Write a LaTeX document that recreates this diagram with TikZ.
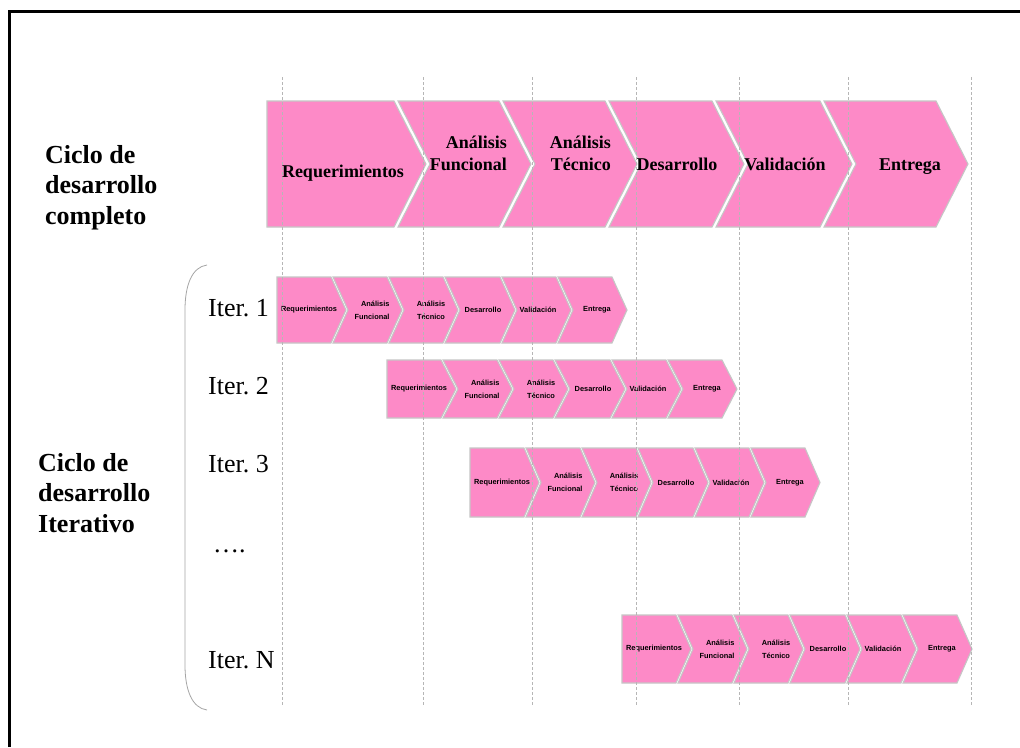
\documentclass[tikz,border=0pt]{standalone}
\usepackage{fontspec}
\setmainfont{Liberation Serif}
\newfontfamily\sansf{Liberation Sans}
\frenchspacing
\definecolor{chevpink}{RGB}{253,138,199}
\definecolor{chevedge}{RGB}{198,198,198}
\definecolor{gridgray}{RGB}{182,182,182}
\definecolor{bracegray}{RGB}{165,165,165}
\tikzset{
  chevshape/.style={fill=chevpink, draw=chevedge, line width=1.1pt, line join=miter},
  bigtxt/.style={font={\bfseries\fontsize{18}{22}\selectfont}, inner sep=0pt},
  smalltxt/.style={font={\sansf\bfseries\fontsize{7.4}{13}\selectfont}, inner sep=0pt},
  sidelbl/.style={font={\bfseries\fontsize{26}{30.5}\selectfont}, inner sep=0pt, anchor=base west, align=left},
  iterlbl/.style={font={\fontsize{26}{30}\selectfont}, inner sep=0pt, anchor=base west},
  gridline/.style={draw=gridgray, line width=0.9pt, dash pattern=on 3pt off 2pt},
  bracket/.style={draw=bracegray, line width=0.8pt},
  frame/.style={draw=black, line width=3pt}
}
% L R top bot tip notch
\newcommand{\chev}[6]{%
  \path[chevshape] (#1,#3) -- (#2,#3) -- ({#2+#5},{(#3+#4)/2}) -- (#2,#4) -- (#1,#4) -- ({#1+#6},{(#3+#4)/2}) -- cycle;}
% name x0 top bot
\newcommand{\smallrow}[4]{%
  \begin{scope}[shift={(#2,0)}]
    \chev{0}{54}{#3}{#4}{15}{0}
    \chev{56}{110}{#3}{#4}{15}{15}
    \chev{112}{166}{#3}{#4}{15}{15}
    \chev{168}{223}{#3}{#4}{15}{15}
    \chev{225}{279}{#3}{#4}{15}{15}
    \chev{281}{335}{#3}{#4}{15}{15}
    \node[smalltxt] (#1-req) at (32,{(#3+#4)/2}) {Requerimientos};
    \node[smalltxt, align=right] (#1-af) at (95,{(#3+#4)/2}) {Análisis\\Funcional};
    \node[smalltxt, align=center] (#1-at) at (154,{(#3+#4)/2}) {Análisis\\Técnico};
    \node[smalltxt] (#1-des) at (206,{(#3+#4)/2}) {Desarrollo};
    \node[smalltxt] (#1-val) at (261,{(#3+#4)/2}) {Validación};
    \node[smalltxt] (#1-ent) at (320,{(#3+#4)/2}) {Entrega};
  \end{scope}}
\begin{document}
\begin{tikzpicture}[x=1pt, y=-1pt]
\useasboundingbox (0,0) rectangle (1020,747);
\fill[white] (0,0) rectangle (1020,747);
% frame
\draw[frame] (9.5,747) -- (9.5,11) -- (1020,11);

% full cycle row
\chev{267}{394}{101}{227}{32}{0}
\chev{398}{499}{101}{227}{32}{32}
\chev{503}{605}{101}{227}{32}{32}
\chev{609}{712}{101}{227}{32}{32}
\chev{716}{820}{101}{227}{32}{32}
\chev{824}{936}{101}{227}{32}{32}
\node[bigtxt, anchor=base] (req) at (343,177) {Requerimientos};
\node[bigtxt, anchor=base east, align=right] (af) at (507,170) {Análisis\\Funcional};
\node[bigtxt, anchor=base east, align=right] (at) at (611,170) {Análisis\\Técnico};
\node[bigtxt, anchor=base] (des) at (677,170) {Desarrollo};
\node[bigtxt, anchor=base] (val) at (785,170) {Validación};
\node[bigtxt, anchor=base] (ent) at (910,170) {Entrega};

% side labels
\node[sidelbl] (full) at (45,224) {Ciclo de\\desarrollo\\completo};
\node[sidelbl] (iterative) at (38,532) {Ciclo de\\desarrollo\\Iterativo};

% bracket
\draw[bracket] (207,265) .. controls (192,267) and (185,285) .. (185,310) -- (185,665) .. controls (185,690) and (192,708) .. (207,710);

% iteration labels
\node[iterlbl] (it1) at (208,316) {Iter. 1};
\node[iterlbl] (it2) at (208,394) {Iter. 2};
\node[iterlbl] (it3) at (208,472) {Iter. 3};
\node[iterlbl] (itdots) at (213,552) {….};
\node[iterlbl] (itN) at (208,668) {Iter. N};

% iteration rows
\smallrow{r1}{277}{277}{343}
\smallrow{r2}{387}{360}{418}
\smallrow{r3}{470}{448}{517}
\smallrow{rN}{622}{615}{683}

% grid lines
\foreach \gx [count=\gi] in {282,423,532,636,739,848,971}
  \draw[gridline] (\gx,77) coordinate (g\gi top) -- (\gx,705) coordinate (g\gi bot);
\end{tikzpicture}
\end{document}
